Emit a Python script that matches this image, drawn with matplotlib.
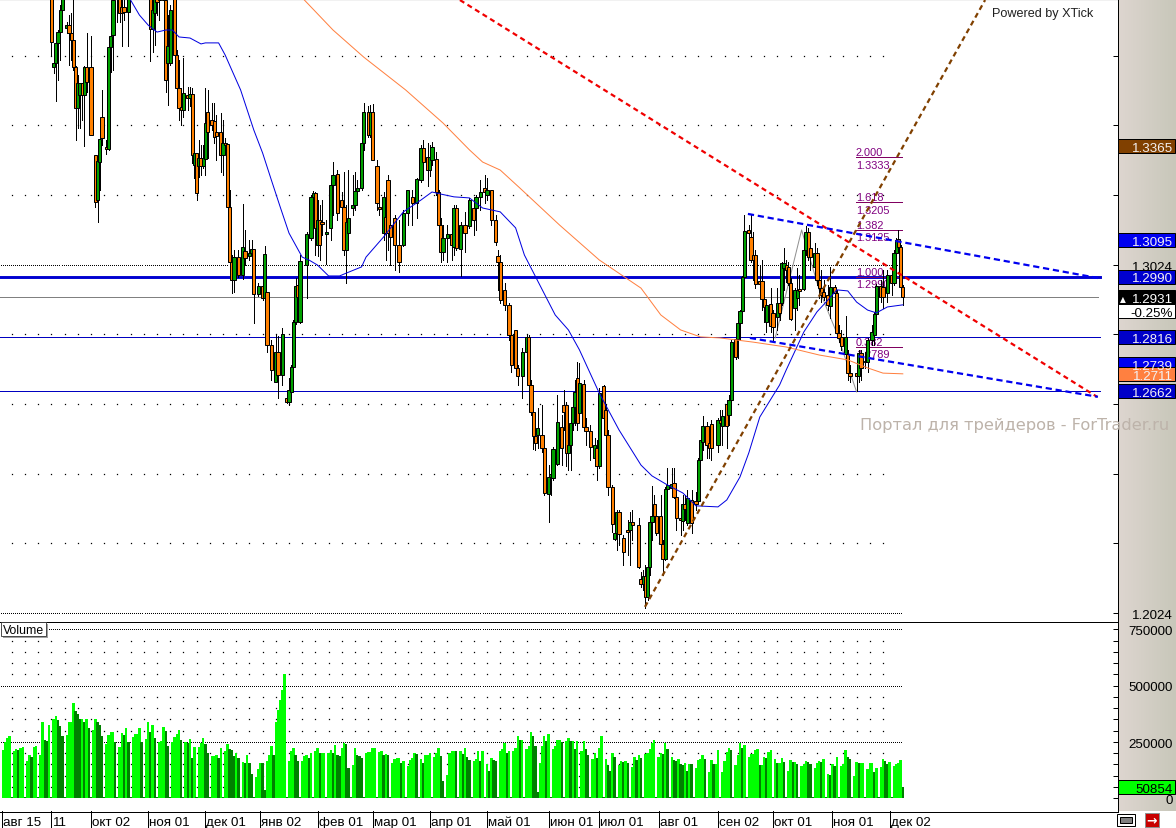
import numpy as np
import matplotlib
matplotlib.use("Agg")
import matplotlib.pyplot as plt
from matplotlib.patches import Rectangle
from matplotlib.transforms import blended_transform_factory

plt.rcParams['font.family'] = ['Liberation Sans', 'DejaVu Sans']

# candles, prices in pips above 1.0000, day = bar number on the time axis
candle_day = [
    22,23,24,25,26,27,29,30,31,32, 33,34,35,36,37,38,40,42,43,44,
    45,47,48,49,50,52,53,54,55,57, 67,68,69,70,71,73,74,75,76,78,
    79,80,81,82,84,85,86,87,88,89, 90,91,92,93,95,96,97,99,100,101,
    102,103,104,105,107,109,110,112,113,114, 116,118,119,120,122,124,125,127,129,130,
    131,132,133,134,135,138,140,141,142,143, 144,145,147,149,150,152,154,155,156,157,
    159,160,161,163,164,166,167,168,170,171, 173,174,175,176,178,180,182,184,186,188,
    190,191,193,194,195,197,198,199,200,202, 204,205,206,208,210,212,214,215,217,219,
    220,222,224,225,226,228,230,231,233,234, 236,238,239,240,241,242,243,245,246,248,
    249,250,252,254,255,256,257,258,259,260, 261,262,264,265,267,269,270,271,273,274,
    275,277,278,279,280,282,284,285,286,289, 290,291,292,293,294,295,296,297,299,300,
    301,302,304,305,306,308,309,310,311,313, 315,316,317,318,320,321,322,325,326,327,
    329,330,331,333,334,335,336,337,339,340, 341,342,344,345,346,347,349,350,352,353,
    354,355,356,357,358,360,361,362,364,365, 366,367,369,370,371,372,373,375,376,378,
    379,380,381,383,384,385,388,389,390,392, 393,395,396,397,399,400,402,404,405,406,
    407,408,409]
candle_open = [
    3841,3592,3603,3661,3692,3755,3704,3712,3689,3669, 3592,3474,3511,3546,3511,3592,3592,3339,3210,3319,
    3448,3362,3356,3649,3684,3813,3798,3764,3764,3750, 3798,3701,3747,3798,3784,3798,3784,3603,3603,3798,
    3626,3531,3477,3468,3511,3503,3514,3310,3345,3308, 3331,3308,3328,3463,3440,3437,3405,3405,3339,3374,
    3371,3190,3032,2980,3046,2995,3064,3049,3058,3069, 2940,2963,2929,2946,2794,2688,2774,2708,2642,2630,
    2659,2731,2860,2966,2860,3023,3101,3219,3230,3081, 3153,3147,3112,3130,3253,3285,3210,3190,3066,3115,
    3187,3196,3236,3244,3374,3463,3397,3463,3308,3190, 3115,3161,3267,3138,3158,3081,3081,3173,3219,3201,
    3267,3359,3333,3296,3325,3328,3233,3138,3061,3101, 3112,3075,3187,3069,3138,3135,3187,3187,3219,3244,
    3224,3239,3153,3049,3032,2952,2909,2823,2837,2728, 2705,2774,2817,2679,2602,2533,2536,2536,2498,2366,
    2415,2412,2452,2559,2622,2622,2484,2507,2570,2616, 2699,2599,2682,2559,2547,2470,2498,2447,2676,2607,
    2536,2386,2237,2254,2315,2240,2263,2263,2286,2277, 2122,2108,2131,2071,2157,2286,2337,2303,2303,2223,
    2180,2381,2383,2398,2358,2297,2289,2337,2283,2349, 2346,2346,2464,2516,2561,2513,2567,2507,2579,2561,
    2625,2593,2636,2811,2811,2857,2892,2989,3124,3104, 3052,3052,2977,2977,2926,2860,2912,2886,2874,2914,
    2914,3015,3023,3018,2972,2900,2929,2955,2955,3066, 3118,3072,3018,3058,2980,2957,2946,2937,2906,2960,
    2943,2828,2817,2768,2768,2713,2713,2705,2771,2748, 2745,2808,2823,2883,2963,2960,2943,2995,2972,3058,
    3098,3075,2960]
candle_close = [
    3663,3603,3661,3692,3755,3798,3712,3689,3669,3592, 3474,3546,3546,3511,3592,3549,3397,3204,3322,3385,
    3388,3356,3649,3681,3784,3795,3747,3747,3750,3798, 3701,3755,3798,3778,3807,3784,3554,3652,3755,3626,
    3531,3474,3468,3517,3503,3514,3339,3345,3230,3331, 3308,3331,3431,3405,3425,3391,3394,3339,3374,3368,
    3190,3032,2980,3046,2995,3075,3044,3058,3069,2940, 2963,2929,3055,2794,2722,2774,2708,2825,2630,2665,
    2731,2860,2963,2932,3035,3112,3219,3230,3130,3153, 3081,3141,3118,3253,3282,3173,3190,3066,3147,3158,
    3196,3236,3244,3374,3463,3397,3463,3325,3201,3184, 3219,3115,3115,3104,3081,3032,3173,3239,3201,3270,
    3359,3319,3296,3333,3362,3233,3138,3061,3101,3112, 3081,3187,3072,3138,3115,3210,3153,3219,3233,3233,
    3239,3153,3089,3032,2923,2909,2823,2736,2728,2705, 2774,2817,2679,2602,2533,2513,2556,2498,2369,2415,
    2424,2495,2573,2498,2602,2484,2507,2570,2616,2659, 2570,2685,2559,2547,2501,2507,2447,2656,2584,2536,
    2386,2280,2254,2315,2251,2200,2257,2286,2277,2157, 2108,2131,2071,2157,2286,2303,2303,2254,2223,2180,
    2381,2392,2395,2358,2297,2292,2337,2323,2355,2283, 2337,2464,2521,2561,2507,2498,2498,2579,2570,2590,
    2561,2636,2802,2759,2857,2892,2989,3121,3115,3038, 3038,2969,2969,2926,2903,2909,2848,2845,2914,2886,
    3029,3029,3009,2972,2869,2952,2952,2949,3066,3118, 3046,3046,3058,2980,2957,2937,2932,2909,2960,2943,
    2828,2814,2791,2817,2713,2705,2705,2771,2728,2745, 2808,2831,2883,2963,2932,2932,2995,2972,3058,3095,
    3075,2960,2931]
candle_high = [
    3870,3655,3684,3698,3770,3813,3721,3741,3747,3784, 3595,3569,3546,3546,3595,3689,3681,3339,3382,3411,
    3526,3382,3655,3684,3813,3830,3813,3790,3790,3813, 3813,3798,3813,3813,3820,3810,3798,3741,3770,3813,
    3640,3612,3531,3618,3534,3534,3531,3382,3345,3382, 3368,3368,3531,3526,3488,3488,3454,3460,3440,3388,
    3371,3239,3052,3066,3066,3199,3124,3095,3095,3069, 2972,3049,3078,2946,2808,2823,2820,2843,2659,2699,
    2736,2866,2986,2980,3052,3118,3224,3236,3233,3210, 3196,3210,3153,3267,3319,3296,3233,3290,3196,3296,
    3282,3290,3267,3382,3488,3480,3483,3486,3325,3210, 3233,3210,3282,3167,3167,3153,3181,3239,3239,3273,
    3368,3382,3374,3368,3376,3348,3239,3158,3138,3138, 3147,3196,3196,3147,3176,3216,3210,3224,3267,3282,
    3273,3239,3167,3066,3052,2972,2914,2837,2837,2736, 2785,2823,2823,2693,2607,2550,2613,2622,2507,2449,
    2464,2501,2650,2593,2665,2630,2550,2579,2636,2693, 2745,2742,2693,2584,2564,2527,2521,2670,2679,2622,
    2550,2392,2292,2320,2320,2249,2292,2315,2320,2297, 2142,2148,2162,2162,2292,2389,2363,2315,2363,2234,
    2386,2441,2441,2441,2378,2335,2363,2363,2378,2378, 2372,2470,2521,2590,2573,2544,2579,2584,2607,2607,
    2636,2650,2808,2814,2860,2894,2992,3167,3138,3167, 3118,3066,3023,3038,2952,2923,2957,2894,2957,2952,
    3032,3072,3038,3032,2986,2957,3015,2995,3081,3135, 3130,3087,3087,3072,3009,3009,2980,2966,3018,2966,
    2952,2851,2837,2877,2780,2736,2745,2780,2780,2774, 2814,2851,2889,2969,2980,3009,3009,3003,3066,3101,
    3124,3081,2966]
candle_low = [
    3626,3574,3494,3554,3612,3741,3689,3597,3612,3583, 3382,3417,3417,3440,3365,3520,3397,3190,3147,3239,
    3368,3342,3354,3577,3583,3721,3721,3652,3727,3652, 3609,3635,3655,3741,3727,3698,3520,3483,3597,3626,
    3497,3440,3425,3448,3468,3480,3316,3273,3210,3276, 3282,3302,3282,3331,3411,3374,3325,3290,3282,3354,
    3190,3023,2943,2946,2989,2983,3023,3038,3052,2857, 2934,2923,2923,2774,2693,2688,2642,2679,2627,2622,
    2650,2722,2854,2866,2857,2929,3095,3196,3052,3049, 3038,3110,3026,3095,3167,3153,3124,3052,2972,3095,
    3167,3181,3224,3239,3354,3391,3391,3325,3181,3167, 3095,3038,3066,3023,3009,3003,3078,3138,3138,3158,
    3262,3282,3250,3279,3310,3224,3124,3032,3038,3032, 3038,3052,3066,2992,3061,3130,3110,3124,3181,3201,
    3210,3138,3081,2952,2914,2894,2808,2716,2716,2679, 2642,2693,2676,2593,2495,2492,2498,2487,2363,2286,
    2363,2406,2449,2449,2550,2447,2435,2435,2550,2564, 2550,2579,2550,2507,2464,2447,2406,2441,2579,2530,
    2363,2257,2234,2206,2220,2162,2191,2162,2234,2154, 2099,2091,2039,2062,2134,2234,2292,2249,2220,2134,
    2177,2372,2378,2355,2263,2249,2263,2292,2277,2254, 2320,2343,2435,2492,2470,2470,2464,2487,2550,2507,
    2498,2564,2633,2754,2757,2808,2880,2986,3095,3032, 2980,2957,2937,2894,2860,2831,2831,2808,2837,2866,
    2909,2952,2975,2966,2866,2837,2894,2909,2952,3052, 3038,3009,3009,2966,2929,2917,2923,2894,2871,2909,
    2823,2802,2780,2751,2693,2688,2662,2688,2693,2728, 2716,2794,2794,2877,2917,2900,2917,2937,2966,3052,
    3066,2952,2909]

# moving averages
ma_fast_day = [58,62,66,70,74,77,80,85,90,92,98,101,104,108,114,118,122,126,130,136,139,143,148,153,156,
               163,165,173,182,190,195,199,205,212,218,226,233,237,244,251,257,262,271,280,290,295,302,309,
               315,325,329,335,339,344,353,356,364,370,375,379,384,388,393,397,402,409]
ma_fast = [3784,3741,3712,3692,3698,3698,3678,3675,3658,3661,3661,3626,3583,3526,3411,3345,3267,3190,3115,3046,3038,3023,2992,2992,3000,
           3018,3046,3104,3176,3210,3233,3227,3219,3216,3187,3176,3130,3052,2966,2880,2837,2780,2656,2550,2449,2418,2392,2369,
           2332,2329,2349,2415,2484,2587,2679,2722,2831,2889,2923,2952,2949,2917,2894,2886,2903,2909]
ma_slow_day = [137,150,164,183,200,212,218,226,235,253,271,290,299,308,317,326,341,356,371,384,393,400,409]
ma_slow = [3784,3698,3620,3526,3431,3354,3319,3296,3244,3138,3038,2957,2880,2837,2817,2814,2802,2788,2765,2751,2728,2713,2711]
zigzag_day = [351,363,371,379,388]
zigzag = [2814,3124,2952,2828,2659]

# trend lines, two ends each (day, pips)
red_line = ([207.7,497.3],[3784,2645])
brown_line = ([291.8,446.4],[2042,3784])
blue_top_line = ([338.6,497.7],[3170,2986])
blue_low_line = ([339.5,497.7],[2814,2645])

fib_ratio = ["2.000","1.618","1.382","1.000","0.382"]
fib_price = [1.3333,1.3205,1.3125,1.2990,1.2789]

price_ticks = [1.2024,1.2224,1.2424,1.2624,1.2824,1.3024,1.3224,1.3424,1.3624]
tag_price = [1.3365,1.3095,1.2990,1.2816,1.2739,1.2711,1.2662]
tag_color = ['#804000','#0000F0','#0000D0','#0000C8','#0000F0','#FF8040','#0000C8']

# volume per bar, thousands
volume_k = [
    216,249,268,278,7, 209,219,215,221,228,7, 165,194,183,228,234,7, 194,339,260,256,326,7,
    352,365,348,319,278,7, 282,339,339,422,387,374, 352,352,339,352,313,7, 304,352,339,324,278,7,
    241,279,295,295,251,7, 229,289,282,313,250,7, 270,287,287,313,250,7, 263,339,294,326,267,7,
    249,253,317,297,230,7, 249,272,285,304,260,7, 249,246,263,180,227,7, 227,246,267,241,202,7,
    187,187,194,177,224,7, 208,241,219,213,187,200,180,7, 162,158,194,155,107,7, 94,129,158,155,37,
    164,194,230,190,339,392,436,482,550,7, 164,209,224,190,165,7, 167,187,190,180,202,7,
    212,221,203,203,203,7, 199,216,202,238,194,187,224,246,243,136,7, 148,224,190,187,180,7,
    199,205,205,221,225,7, 205,209,190,197,192,7, 155,175,178,
    180,158,165,7, 142,169,177,202,195,7, 173,155,190,190,199,7, 182,202,221,186,77,7,
    103,203,208,212,208,7, 208,195,221,182,170,7, 164,173,208,164,208,7, 151,121,177,169,164,7,
    212,217,247,199,212,7, 208,225,278,260,260,7, 217,234,295,278,234,30, 155,234,278,256,286,7,
    217,230,260,260,251,7, 256,269,256,256,217,256,7, 208,256,217,190,7, 173,199,177,221,278,7,
    173,147,121,199,182,7, 147,164,160,164,155,7, 138,182,169,190,177,7, 195,199,217,247,260,7,
    182,203,195,247,217,7, 182,169,164,173,151,
    148,157,122,153,150,7, 135,170,174,192,174,7, 118,170,153,153,214,7, 118,166,205,222,214,7,
    148,192,244,222,235,7, 183,196,196,214,218,148,148,183,179,205,214,7, 174,157,157,179,161,7,
    122,170,161,161,150,7, 144,153,166,160,150,7, 135,157,166,161,174,7, 109,105,153,144,183,7,
    144,153,214,183,174,7, 100,161,157,157,157,7, 131,157,157,118,135,7, 140,174,166,153,161,7,
    144,153,155,170,51]

month_day = [-0.5,22,40,66,92,117,143,168,194,220,248,271,298,325,350,377,403]
month_label = ["авг 15","11","окт 02","ноя 01","дек 01","янв 02","фев 01","мар 01","апр 01",
               "май 01","июн 01","июл 01","авг 01","сен 02","окт 01","ноя 01","дек 02"]
volume_labels = [750000,500000,250000,0]

W, H = 1176, 829
PX = 2.2   # pixels per bar
LW = 0.72  # one pixel


def price(p):
    return 1 + np.asarray(p, dtype=float) / 10000


def fx(px):
    return px / W


def fy(py):
    return 1 - py / H


fig = plt.figure(figsize=(W / 100, H / 100), dpi=100, facecolor='white')

# grey strip on the right
strip = fig.add_axes([fx(1117), fy(812.5), 59 / W, 812.5 / H], zorder=0)
grad = np.linspace(0, 1, 64).reshape(1, -1, 1)
c1 = np.array([222, 214, 208]) / 255
c2 = np.array([200, 199, 186]) / 255
strip.imshow(c1 + (c2 - c1) * grad, aspect='auto')
strip.axis('off')

ax = fig.add_axes([0, fy(622.5), 1117.5 / W, 622.5 / H], zorder=3)
vol = fig.add_axes([0, fy(812.5), 1117.5 / W, 190 / H], zorder=2)
xlim = (-3 / PX, 1114.5 / PX)
ax.set_xlim(xlim)
vol.set_xlim(xlim)
ax.set_ylim(1.2000, 1.3787)
vol.set_ylim(-58600, 784600)

for a in (ax, vol):
    for s in a.spines.values():
        s.set_visible(False)
    a.spines['right'].set_visible(True)
    a.spines['bottom'].set_visible(True)
    a.spines['right'].set_linewidth(LW)
    a.spines['bottom'].set_linewidth(LW)
    a.set_xticks([])
    a.yaxis.tick_right()
    a.tick_params(axis='y', direction='in', length=3.5, width=LW, labelright=False)
ax.spines['top'].set_visible(True)
ax.set_yticks(price_ticks)
vol.set_yticks(np.arange(0, 800000, 50000))

# dotted grid: sparse dots every week, dense dots on the labelled rows
dot_days = np.arange(4, 405, 6)
dense_days = np.arange(-1, 409, 0.92)
for t in price_ticks:
    if t in (1.2024, 1.3024):
        ax.plot(dense_days, [t] * len(dense_days), ls='none', marker='s', ms=0.72, mew=0, color='black', zorder=1)
    else:
        ax.plot(dot_days, [t] * len(dot_days), ls='none', marker='s', ms=0.9, mew=0, color='black', zorder=1)
for v in np.arange(50000, 800000, 50000):
    if v % 250000 == 0:
        vol.plot(dense_days, [v] * len(dense_days), ls='none', marker='s', ms=0.72, mew=0, color='black', zorder=1)
    else:
        vol.plot(dot_days, [v] * len(dot_days), ls='none', marker='s', ms=0.9, mew=0, color='black', zorder=1)

# horizontal levels
ax.axhline(1.2990, xmax=1100 / 1117, color='#0000D0', lw=2.1, zorder=1.5)
ax.axhline(1.2816, xmax=1100 / 1117, color='#0000C0', lw=LW, zorder=1.5)
ax.axhline(1.2662, xmax=1100 / 1117, color='#0000C0', lw=LW, zorder=1.5)
ax.axhline(1.2931, xmax=1098 / 1117, color='#808080', lw=LW, zorder=1.5)

# fibonacci labels
for r, p in zip(fib_ratio, fib_price):
    ax.plot([387.7, 408.6], [p, p], color='#800060', lw=LW, zorder=1.6)
    ax.text(387.7, p, r, color='#800080', fontsize=7.9, va='bottom', ha='left', zorder=1.6)
    ax.text(387.7, p - 0.0008, "%.4f" % p, color='#800080', fontsize=7.9, va='top', ha='left', zorder=1.6)

ax.plot(zigzag_day, price(zigzag), color='#909090', lw=LW, zorder=1.8)

# candles
o = price(candle_open)
c = price(candle_close)
up = c >= o
colors = np.where(up, '#00A000', '#FF8000')
ax.vlines(candle_day, price(candle_low), price(candle_high), color='black', lw=LW, zorder=3, antialiased=False)
ax.bar(candle_day, np.abs(c - o), bottom=np.minimum(o, c), width=1.45, color=colors,
       edgecolor='black', linewidth=LW, zorder=3.2)

ax.plot(ma_fast_day, price(ma_fast), color='#0000E0', lw=LW, zorder=4)
ax.plot(ma_slow_day, price(ma_slow), color='#FF8040', lw=LW, zorder=4)

# trend lines
ax.plot(red_line[0], price(red_line[1]), color='#F00000', lw=1.6, ls=(0, (2.3, 1.7)), zorder=5)
ax.plot(brown_line[0], price(brown_line[1]), color='#804000', lw=1.6, ls=(0, (2.3, 1.7)), zorder=5)
ax.plot(blue_top_line[0], price(blue_top_line[1]), color='#0000F0', lw=1.6, ls=(0, (2.8, 1.7)), zorder=5)
ax.plot(blue_low_line[0], price(blue_low_line[1]), color='#0000F0', lw=1.6, ls=(0, (2.8, 1.7)), zorder=5)

# volume bars, light when volume rose against the bar before
v = np.array(volume_k) * 1000
rose = np.r_[True, v[1:] >= v[:-1]]
vol.bar(np.arange(len(v)), v, width=1.1, color=np.where(rose, '#00FF00', '#008000'), linewidth=0, zorder=3)

# price tags on the strip
tr = blended_transform_factory(fig.transFigure, ax.transData)
tr_v = blended_transform_factory(fig.transFigure, vol.transData)
TEXT_X = fx(1173)
TXT = 0.0005   # text sits a little lower than the box centre
for p, col in zip(tag_price, tag_color):
    ax.add_patch(Rectangle((fx(1118), p - 0.0020), 57 / W, 0.0040, transform=tr, facecolor=col,
                           edgecolor='black', lw=LW, clip_on=False, zorder=6))
    ax.text(TEXT_X, p - TXT, "%.4f" % p, transform=tr, color='#F4F0F0', fontsize=9.6, ha='right', va='center',
            clip_on=False, zorder=7)
ax.add_patch(Rectangle((fx(1118), 1.2931 - 0.0020), 57 / W, 0.0040, transform=tr, facecolor='black',
                       edgecolor='black', lw=LW, clip_on=False, zorder=6))
ax.text(fx(1120), 1.2931 - TXT, "▲", transform=tr, color='white', fontsize=5.5, ha='left', va='center', zorder=7,
        family='DejaVu Sans', clip_on=False)
ax.text(TEXT_X, 1.2931 - TXT, "1.2931", transform=tr, color='white', fontsize=9.6, ha='right', va='center', zorder=7,
        clip_on=False)
ax.add_patch(Rectangle((fx(1118), 1.2931 - 0.0060), 57 / W, 0.0040, transform=tr, facecolor='white',
                       edgecolor='black', lw=LW, clip_on=False, zorder=6))
ax.text(TEXT_X, 1.2931 - 0.0040 - TXT, "-0.25%", transform=tr, color='black', fontsize=9.6, ha='right', va='center',
        zorder=7, clip_on=False)
for t in (1.3024, 1.2024):
    ax.text(TEXT_X, t - TXT, "%.4f" % t, transform=tr, color='black', fontsize=9.6,
            ha='right', va='center', zorder=5.5, clip_on=False)

for t in volume_labels:
    vol.text(TEXT_X, t - 8000, str(t), transform=tr_v, color='black', fontsize=9.6, ha='right', va='center',
             zorder=5, clip_on=False)
vol.add_patch(Rectangle((fx(1118), 50854 - 31000), 57 / W, 62000, transform=tr_v, facecolor='#00FF00',
                        edgecolor='black', lw=LW, clip_on=False, zorder=6))
vol.text(TEXT_X, 50854 - 8000, "50854", transform=tr_v, color='black', fontsize=9.6, ha='right', va='center',
         zorder=7, clip_on=False)

# Volume caption
fig.patches.append(Rectangle((fx(3), fy(639)), 45 / W, 14 / H, transform=fig.transFigure, facecolor='#A0A0A0',
                             edgecolor='none', zorder=8))
fig.patches.append(Rectangle((fx(1), fy(637)), 45 / W, 14 / H, transform=fig.transFigure, facecolor='white',
                             edgecolor='#303030', lw=0.6, zorder=9))
fig.text(fx(3), fy(631), "Volume", fontsize=8.8, color='black', va='center', ha='left', zorder=10)

# time axis
tr_x = blended_transform_factory(vol.transData, fig.transFigure)
for d, lab in zip(month_day, month_label):
    vol.plot([d, d], [fy(812), fy(829)], transform=tr_x, color='black', lw=LW, clip_on=False, zorder=5)
    vol.text(d + 0.5, fy(823.5), lab, transform=tr_x, color='black', fontsize=9.6, ha='left', va='center', clip_on=False)

fig.text(fx(992), fy(14), "Powered by XTick", fontsize=9.1, color='#202020', va='center', ha='left', zorder=10)
fig.text(fx(860), fy(425.5), "Портал для трейдеров - ForTrader.ru", fontsize=11.7, color='#BDB3AA', va='center',
         ha='left', zorder=10, family='DejaVu Sans')

# little buttons bottom right
fig.patches.append(Rectangle((fx(1117), fy(827)), 18 / W, 12 / H, transform=fig.transFigure, facecolor='white',
                             edgecolor='black', lw=LW, zorder=8))
fig.patches.append(Rectangle((fx(1120), fy(824)), 12 / W, 6 / H, transform=fig.transFigure, facecolor='#808080',
                             edgecolor='black', lw=LW, zorder=9))
fig.patches.append(Rectangle((fx(1145), fy(828)), 14 / W, 14 / H, transform=fig.transFigure, facecolor='#C80000',
                             edgecolor='#909090', lw=LW, zorder=8))
fig.text(fx(1152), fy(821), "→", fontsize=9, color='white', fontweight='bold', family='DejaVu Sans',
         ha='center', va='center', zorder=9)

fig.savefig("out.png", dpi=100)
